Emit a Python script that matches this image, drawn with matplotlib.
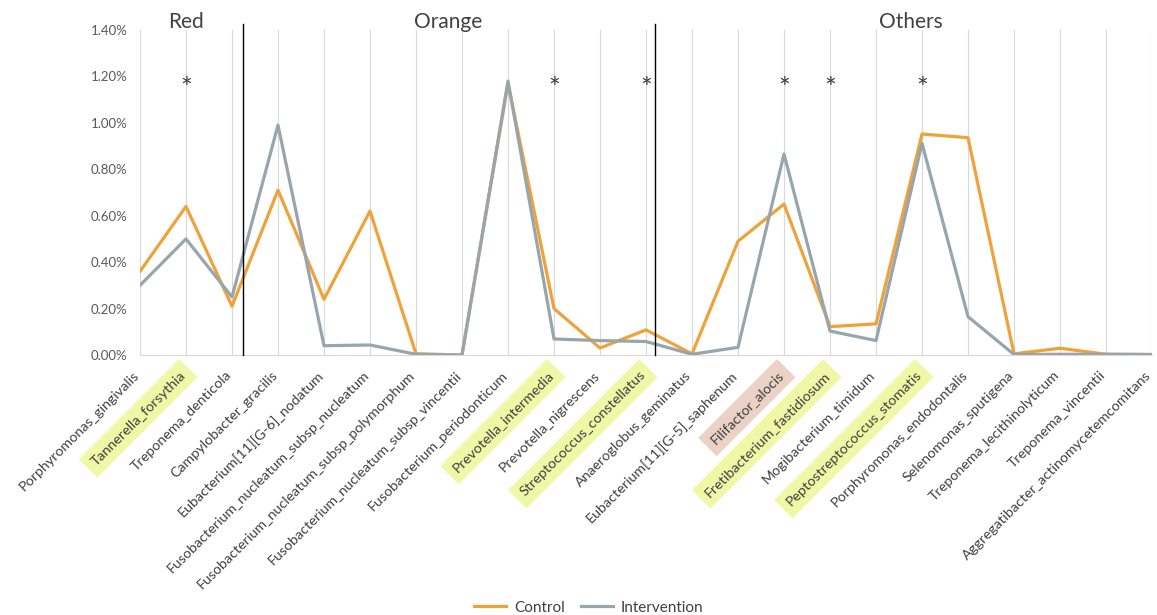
import matplotlib.pyplot as plt
from matplotlib.ticker import FuncFormatter
from matplotlib.transforms import ScaledTranslation

plt.rcParams['font.family'] = ['Lato', 'DejaVu Sans']

species = [
    'Porphyromonas_gingivalis', 'Tannerella_forsythia', 'Treponema_denticola',
    'Campylobacter_gracilis', 'Eubacterium[11][G-6]_nodatum',
    'Fusobacterium_nucleatum_subsp_nucleatum',
    'Fusobacterium_nucleatum_subsp_polymorphum',
    'Fusobacterium_nucleatum_subsp_vincentii', 'Fusobacterium_periodonticum',
    'Prevotella_intermedia', 'Prevotella_nigrescens',
    'Streptococcus_constellatus', 'Anaeroglobus_geminatus',
    'Eubacterium[11][G-5]_saphenum', 'Filifactor_alocis',
    'Fretibacterium_fastidiosum', 'Mogibacterium_timidum',
    'Peptostreptococcus_stomatis', 'Porphyromonas_endodontalis',
    'Selenomonas_sputigena', 'Treponema_lecithinolyticum',
    'Treponema_vincentii', 'Aggregatibacter_actinomycetemcomitans',
]

# relative abundance, %
control = [0.36, 0.64, 0.21, 0.71, 0.24, 0.62, 0.005, 0.0, 1.17, 0.20,
           0.03, 0.108, 0.005, 0.49, 0.65, 0.122, 0.134, 0.952, 0.936,
           0.005, 0.029, 0.003, 0.002]
intervention = [0.30, 0.50, 0.25, 0.99, 0.04, 0.043, 0.003, 0.0, 1.18,
                0.069, 0.062, 0.058, 0.003, 0.033, 0.866, 0.103, 0.062,
                0.912, 0.165, 0.002, 0.003, 0.003, 0.002]

significant = ['Tannerella_forsythia', 'Prevotella_intermedia',
               'Streptococcus_constellatus', 'Filifactor_alocis',
               'Fretibacterium_fastidiosum', 'Peptostreptococcus_stomatis']
highlight_yellow = ['Tannerella_forsythia', 'Prevotella_intermedia',
                    'Streptococcus_constellatus', 'Fretibacterium_fastidiosum',
                    'Peptostreptococcus_stomatis']
highlight_pink = ['Filifactor_alocis']

complexes = ['Red', 'Orange', 'Others']
complex_centers = [1.0, 6.7, 16.75]
complex_splits = [2.23, 11.2]

fig = plt.figure(figsize=(11.57, 6.15), dpi=100)
ax = fig.add_axes([0.121, 0.4228, 0.8747, 0.5284])

x = range(len(species))
ax.plot(x, control, color='#EFA23A', lw=2.3, label='Control', zorder=3)
ax.plot(x, intervention, color='#98A5AC', lw=2.3, label='Intervention', zorder=3)

ax.set_xlim(0, len(species) - 1)
ax.set_ylim(0, 1.4)
ax.set_yticks([i * 0.2 for i in range(8)])
ax.yaxis.set_major_formatter(FuncFormatter(lambda v, p: f'{v:.2f}%'))
ax.set_xticks(list(x))
ax.set_xticklabels(species, rotation=45, ha='right', va='top',
                   rotation_mode='anchor', fontsize=10.3, color='#404040')
ax.tick_params(axis='y', labelsize=9.5, labelcolor='#595959', length=0, pad=9)
ax.tick_params(axis='x', length=0, pad=10)

ax.grid(axis='x', color='#D9D9D9', lw=0.8)
for s in ['top', 'right', 'left']:
    ax.spines[s].set_visible(False)
ax.spines['bottom'].set_color('#D9D9D9')

# nudge the slanted names a little to the left, highlight the significant ones
shift = ScaledTranslation(-5 / 72, 0, fig.dpi_scale_trans)
for lbl in ax.get_xticklabels():
    lbl.set_transform(lbl.get_transform() + shift)
    name = lbl.get_text()
    if name in highlight_yellow:
        lbl.set_bbox(dict(facecolor='#F0F7A6', edgecolor='none', pad=5))
    elif name in highlight_pink:
        lbl.set_bbox(dict(facecolor='#ECD2C6', edgecolor='none', pad=5))

for sx in complex_splits:
    ax.axvline(sx, ymin=0, ymax=1.02, color='black', lw=1.0, clip_on=False,
               zorder=4)

for name, cx in zip(complexes, complex_centers):
    ax.text(cx, 1.005, name, transform=ax.get_xaxis_transform(), ha='center',
            va='baseline', fontsize=15, color='#404040')

for name in significant:
    ax.text(species.index(name), 1.14, '*', ha='center', va='center',
            fontsize=20, color='#404040')

fig.legend(loc='lower center', bbox_to_anchor=(0.509, -0.022), ncol=2,
           frameon=False, fontsize=11, handlelength=2.1, handletextpad=0.5,
           columnspacing=1.1, labelcolor='#404040')

fig.savefig('out.png', dpi=100)
